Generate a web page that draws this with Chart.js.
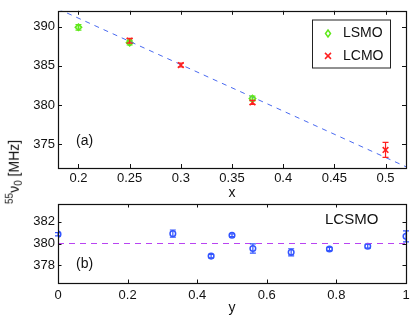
<!DOCTYPE html>
<html>
<head>
<meta charset="utf-8">
<script src="https://cdn.jsdelivr.net/npm/chart.js@4.4.1/dist/chart.umd.min.js"></script>
<style>
  html, body { margin: 0; padding: 0; background: #fff; }
  #wrap { position: relative; width: 415px; height: 319px; overflow: hidden; font-family: "Liberation Sans", Arial, sans-serif; }
  canvas { position: absolute; left: 0; }
  #topChart { top: 0; }
  #botChart { top: 190px; }
  #ylab { position: absolute; left: 14px; top: 172px; width: 0; height: 0; }
  #ylab span { position: absolute; left: 0; top: 0; white-space: nowrap; font-size: 14px; color: #111;
               transform: translate(-50%, -50%) rotate(-90deg); }
  #ylab sup, #ylab sub { font-size: 10px; }
</style>
</head>
<body>
<div id="wrap">
  <canvas id="topChart" width="415" height="200"></canvas>
  <canvas id="botChart" width="415" height="129"></canvas>
  <div id="ylab"><span><sup>55</sup>ν<sub>0</sub> [MHz]</span></div>
</div>
<script>
// --- DATA ---
// panel (a): frequency vs x
const lsmoX = [0.2, 0.25, 0.37];
const lsmoY = [389.9, 387.95, 380.85];
const lsmoErr = [0.35, 0.3, 0.3];

const lcmoX = [0.25, 0.3, 0.37, 0.5];
const lcmoY = [388.2, 385.1, 380.35, 374.3];
const lcmoErr = [0.3, 0.25, 0.25, 0.95];

// linear fit through panel (a)
const fitX = [0.18, 0.52];
const fitY = [392.24, 372.16];

const xTicksA = [0.2, 0.25, 0.3, 0.35, 0.4, 0.45, 0.5];
const yTicksA = [375, 380, 385, 390];

// panel (b): LCSMO vs y
const lcsmoX = [0, 0.33, 0.44, 0.5, 0.56, 0.67, 0.78, 0.89, 1.0];
const lcsmoY = [380.85, 380.9, 378.85, 380.75, 379.55, 379.2, 379.5, 379.75, 380.65];
const lcsmoErr = [0.15, 0.33, 0.15, 0.12, 0.42, 0.32, 0.15, 0.18, 0.5];

const refX = [0, 1];
const refY = [380, 380];

const xTicksB = [0, 0.2, 0.4, 0.6, 0.8, 1];
const yTicksB = [378, 380, 382];

const FONT = "'Liberation Sans', Arial, sans-serif";
const toPts = (xs, ys) => xs.map((x, i) => ({ x: x, y: ys[i] }));

// draws a box round the plot area with matlab style inward ticks
const frameTicks = {
    id: 'frameTicks',
    afterDraw(chart, args, opts) {
        const { ctx, chartArea: a, scales } = chart;
        const len = opts.len || 4;
        ctx.save();
        ctx.strokeStyle = '#111';
        ctx.lineWidth = 1;
        ctx.beginPath();
        scales.x.ticks.forEach(t => {
            const px = Math.round(scales.x.getPixelForValue(t.value)) + 0.5;
            ctx.moveTo(px, a.bottom); ctx.lineTo(px, a.bottom - len);
            ctx.moveTo(px, a.top); ctx.lineTo(px, a.top + len);
        });
        scales.y.ticks.forEach(t => {
            const py = Math.round(scales.y.getPixelForValue(t.value)) + 0.5;
            ctx.moveTo(a.left, py); ctx.lineTo(a.left + len, py);
            ctx.moveTo(a.right, py); ctx.lineTo(a.right - len, py);
        });
        ctx.stroke();
        ctx.lineWidth = 1.2;
        ctx.strokeRect(Math.round(a.left) + 0.5, Math.round(a.top) + 0.5,
                       Math.round(a.right - a.left), Math.round(a.bottom - a.top));
        ctx.restore();
    }
};

// vertical error bars, values come from dataset.errorBars
const errorBars = {
    id: 'errorBars',
    afterDatasetsDraw(chart) {
        const { ctx, scales } = chart;
        chart.data.datasets.forEach((ds, i) => {
            if (!ds.errorBars || !chart.isDatasetVisible(i)) return;
            ctx.save();
            ctx.strokeStyle = ds.borderColor;
            ctx.lineWidth = 1.2;
            ds.data.forEach((p, j) => {
                const e = ds.errorBars[j];
                const px = scales.x.getPixelForValue(p.x);
                const y1 = scales.y.getPixelForValue(p.y - e);
                const y2 = scales.y.getPixelForValue(p.y + e);
                const cap = 3;
                ctx.beginPath();
                ctx.moveTo(px, y1); ctx.lineTo(px, y2);
                ctx.moveTo(px - cap, y1); ctx.lineTo(px + cap, y1);
                ctx.moveTo(px - cap, y2); ctx.lineTo(px + cap, y2);
                ctx.stroke();
            });
            ctx.restore();
        });
    }
};

// text notes and the legend box drawn inside the plot area
const notes = {
    id: 'notes',
    afterDraw(chart, args, opts) {
        const ctx = chart.ctx;
        ctx.save();
        ctx.fillStyle = '#111';
        ctx.textBaseline = 'middle';
        (opts.labels || []).forEach(l => {
            ctx.font = l.size + 'px ' + FONT;
            ctx.fillText(l.text, l.x, l.y);
        });
        if (opts.legend) {
            const L = opts.legend;
            ctx.fillStyle = '#fff';
            ctx.fillRect(L.x, L.y, L.w, L.h);
            ctx.strokeStyle = '#222';
            ctx.lineWidth = 1;
            ctx.strokeRect(L.x + 0.5, L.y + 0.5, L.w, L.h);
            ctx.font = '14px ' + FONT;
            L.items.forEach((it, k) => {
                const cy = L.y + 14 + k * 22.4;
                const mx = L.x + 16;
                ctx.strokeStyle = it.color;
                ctx.lineWidth = 1.5;
                ctx.beginPath();
                if (it.shape === 'diamond') {
                    ctx.moveTo(mx, cy - 3.5); ctx.lineTo(mx + 2.5, cy);
                    ctx.lineTo(mx, cy + 3.5); ctx.lineTo(mx - 2.5, cy); ctx.closePath();
                } else {
                    ctx.moveTo(mx - 3, cy - 3); ctx.lineTo(mx + 3, cy + 3);
                    ctx.moveTo(mx + 3, cy - 3); ctx.lineTo(mx - 3, cy + 3);
                }
                ctx.stroke();
                ctx.fillStyle = '#111';
                ctx.fillText(it.text, L.x + 31, cy);
            });
        }
        ctx.restore();
    }
};

function axis(min, max, ticks, title, extra) {
    return Object.assign({
        type: 'linear',
        min: min,
        max: max,
        afterBuildTicks: s => { s.ticks = ticks.map(v => ({ value: v })); },
        grid: { display: false, drawTicks: false },
        border: { display: false },
        ticks: { color: '#111', font: { size: 13, family: FONT }, autoSkip: false, maxRotation: 0,
                 callback: v => String(v) },
        title: title ? { display: true, text: title, color: '#111',
                         font: { size: 14, family: FONT, lineHeight: 1 }, padding: { top: 0, bottom: 0 } }
                     : { display: false }
    }, extra);
}

const green = '#5fe81a';
const red = '#ff2020';
const blue = '#3355ff';

new Chart(document.getElementById('topChart'), {
    type: 'scatter',
    data: {
        datasets: [
            {
                label: 'fit', data: toPts(fitX, fitY), showLine: true, pointRadius: 0,
                borderColor: '#4a6af0', borderWidth: 1, borderDash: [5, 5]
            },
            {
                label: 'LSMO', data: toPts(lsmoX, lsmoY), errorBars: lsmoErr,
                pointStyle: 'rectRot', pointRadius: 3.2, borderWidth: 1.5,
                borderColor: green, backgroundColor: 'rgba(95,232,26,0.4)'
            },
            {
                label: 'LCMO', data: toPts(lcmoX, lcmoY), errorBars: lcmoErr,
                pointStyle: 'crossRot', pointRadius: 4, borderWidth: 1.6,
                borderColor: red, backgroundColor: red
            }
        ]
    },
    options: {
        responsive: false,
        animation: false,
        devicePixelRatio: 1,
        layout: { padding: { top: 8, right: 9, left: 0, bottom: 0 } },
        scales: {
            x: axis(0.18, 0.52, xTicksA, 'x', { afterFit: s => { s.height = 32; } }),
            y: axis(372, 392, yTicksA, null, { afterFit: s => { s.width = 58; } })
        },
        plugins: {
            legend: { display: false },
            tooltip: { enabled: false },
            frameTicks: { len: 4 },
            notes: {
                labels: [{ text: '(a)', x: 76, y: 141.5, size: 14 }],
                legend: {
                    x: 312, y: 19.5, w: 78, h: 48,
                    items: [
                        { text: 'LSMO', color: green, shape: 'diamond' },
                        { text: 'LCMO', color: red, shape: 'cross' }
                    ]
                }
            }
        }
    },
    plugins: [errorBars, frameTicks, notes]
});

new Chart(document.getElementById('botChart'), {
    type: 'scatter',
    data: {
        datasets: [
            {
                label: 'ref', data: toPts(refX, refY), showLine: true, pointRadius: 0,
                borderColor: '#b944f2', borderWidth: 1.2, borderDash: [6, 5]
            },
            {
                label: 'LCSMO', data: toPts(lcsmoX, lcsmoY), errorBars: lcsmoErr,
                pointStyle: 'circle', pointRadius: 2.8, borderWidth: 1.5,
                borderColor: blue, backgroundColor: 'rgba(255,255,255,0)'
            }
        ]
    },
    options: {
        responsive: false,
        animation: false,
        devicePixelRatio: 1,
        layout: { padding: { top: 14, right: 9, left: 0, bottom: 0 } },
        scales: {
            x: axis(0, 1, xTicksB, 'y', {
                afterFit: s => { s.height = 36; },
                ticks: { color: '#111', font: { size: 13, family: FONT }, autoSkip: false, maxRotation: 0,
                         padding: 5, callback: v => String(v) },
                title: { display: true, text: 'y', color: '#111',
                         font: { size: 14, family: FONT, lineHeight: 1 }, padding: { top: 0, bottom: 4 } }
            }),
            y: axis(376.4, 383.6, yTicksB, null, { afterFit: s => { s.width = 58; } })
        },
        plugins: {
            legend: { display: false },
            tooltip: { enabled: false },
            frameTicks: { len: 3.5 },
            notes: {
                labels: [
                    { text: '(b)', x: 76, y: 264.5 - 190, size: 14 },
                    { text: 'LCSMO', x: 325, y: 220 - 190, size: 15 }
                ]
            }
        }
    },
    plugins: [errorBars, frameTicks, notes]
});
</script>
</body>
</html>
